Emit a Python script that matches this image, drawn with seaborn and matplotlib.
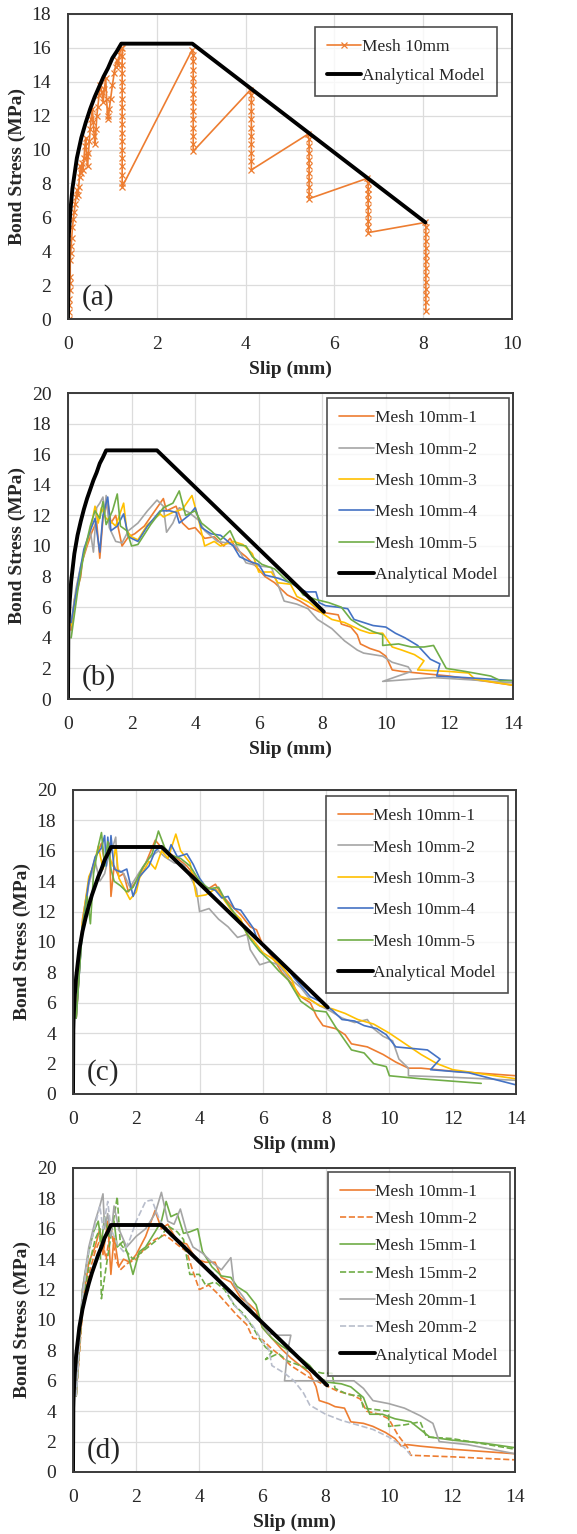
import numpy as np
import pandas as pd
import seaborn as sns
import matplotlib.pyplot as plt

# ---------------- data ----------------
# analytical model (same curve in every panel)
model_slip = [0.0, 0.01, 0.02, 0.05, 0.1, 0.2, 0.3, 0.4, 0.5, 0.6, 0.7, 0.8, 0.9, 1.0, 1.1, 1.2, 2.8, 8.05]
model_stress = [0.0, 4.2, 5.0, 6.3, 7.7, 9.5, 10.7, 11.6, 12.4, 13.1, 13.7, 14.3, 14.8, 15.4, 15.8, 16.25, 16.25, 5.7]

# panel (a): Mesh 10mm (x markers)
a_rise_x = [0.02, 0.02, 0.03, 0.03, 0.04, 0.04, 0.05, 0.05, 0.06, 0.07, 0.08, 0.10, 0.12, 0.14, 0.16, 0.18,
            0.20, 0.22, 0.24, 0.26, 0.28, 0.30, 0.32, 0.34, 0.36, 0.38, 0.40, 0.42, 0.44, 0.46, 0.48, 0.50,
            0.52, 0.55, 0.57, 0.59, 0.61, 0.63, 0.65, 0.67, 0.70, 0.73, 0.76, 0.79, 0.82, 0.85, 0.87, 0.89,
            0.91, 0.93, 0.96, 1.00, 1.04, 1.07, 1.10, 1.13, 1.16, 1.19]
a_rise_y = [0.0, 0.4, 0.8, 1.2, 1.7, 2.1, 2.5, 3.5, 3.9, 4.3, 4.8, 5.4, 5.9, 6.3, 6.8, 7.2,
            7.6, 7.3, 7.8, 8.4, 9.0, 8.6, 9.2, 8.8, 9.5, 10.2, 10.7, 9.6, 9.0, 9.8, 10.5, 11.2,
            11.8, 12.4, 11.6, 10.8, 10.3, 11.2, 12.0, 12.5, 13.2, 13.8, 13.4, 12.8, 13.6, 14.2, 13.0, 12.0,
            11.8, 12.4, 13.0, 13.8, 14.5, 14.9, 15.3, 15.0, 15.6, 16.0]
a_drop_x = [1.22, 2.82, 4.13, 5.43, 6.76, 8.06]
a_peak_x = [None, 2.80, 4.10, 5.40, 6.74, 8.05]
a_peak_y = [None, 15.9, 13.5, 10.9, 8.3, 5.7]
a_drops = [
    [16.0, 15.5, 15.0, 14.5, 14.0, 13.5, 13.0, 12.5, 12.0, 11.5, 11.0, 10.5, 10.0, 9.5, 9.0, 8.5, 8.0, 7.8],
    [15.6, 15.2, 14.7, 14.2, 13.8, 13.3, 12.8, 12.3, 11.8, 11.3, 10.8, 10.3, 9.9],
    [13.2, 12.8, 12.3, 11.8, 11.3, 10.8, 10.3, 9.8, 9.3, 8.8],
    [10.6, 10.2, 9.8, 9.4, 9.0, 8.6, 8.2, 7.8, 7.4, 7.1],
    [8.0, 7.7, 7.4, 7.0, 6.6, 6.2, 5.8, 5.4, 5.1],
    [5.4, 5.0, 4.6, 4.2, 3.8, 3.4, 3.0, 2.6, 2.2, 1.8, 1.4, 1.0, 0.45],
]

# panel (b): five 10mm specimens
b_series = {
    "Mesh 10mm-1": (
        [0.1, 0.2, 0.3, 0.4, 0.45, 0.6, 0.75, 0.9, 1.0, 1.1, 1.25, 1.35, 1.5, 1.7, 1.9, 2.1, 2.4, 2.7, 3.0, 3.1,
         3.4, 3.6, 3.8, 4.0, 4.3, 4.6, 4.9, 5.1, 5.3, 5.6, 5.9, 6.2, 6.5, 6.9, 7.3, 7.6, 7.9, 8.2, 8.5, 8.6,
         8.9, 9.1, 9.2, 9.5, 9.8, 10.0, 10.2, 10.5, 11.0, 12.0, 13.0, 14.0],
        [4.5, 6.5, 7.2, 8.0, 9.0, 10.0, 10.9, 11.6, 9.2, 11.8, 12.9, 11.5, 12.0, 10.0, 10.6, 10.8, 11.3, 12.2, 13.1, 12.3,
         12.6, 11.5, 11.1, 11.2, 10.5, 10.6, 10.0, 10.5, 9.8, 9.3, 8.7, 8.0, 7.6, 6.8, 6.4, 6.0, 5.7, 5.6, 5.5, 4.9,
         4.7, 4.2, 3.6, 3.3, 3.1, 2.8, 1.9, 1.8, 1.7, 1.5, 1.2, 0.9]),
    "Mesh 10mm-2": (
        [0.1, 0.25, 0.4, 0.55, 0.7, 0.8, 0.9, 1.0, 1.1, 1.15, 1.2, 1.3, 1.5, 1.7, 1.9, 2.2, 2.5, 2.8, 3.0, 3.1,
         3.3, 3.5, 3.8, 4.1, 4.3, 4.7, 5.0, 5.3, 5.6, 6.0, 6.4, 6.8, 7.2, 7.55, 7.85, 8.3, 8.7, 9.1, 9.3, 9.9,
         10.2, 10.7, 10.8, 9.9, 11.5, 12.7, 14.0],
        [5.0, 7.2, 8.7, 9.8, 11.0, 9.6, 12.5, 12.8, 13.2, 12.1, 13.3, 11.2, 10.3, 10.2, 11.0, 11.5, 12.3, 13.0, 12.6, 10.9,
         11.5, 12.5, 12.2, 11.7, 11.0, 10.3, 10.2, 10.0, 8.9, 8.7, 8.6, 6.4, 6.2, 5.9, 5.2, 4.6, 3.8, 3.2, 3.0, 2.8,
         2.4, 2.1, 1.8, 1.15, 1.4, 1.25, 1.05]),
    "Mesh 10mm-3": (
        [0.1, 0.3, 0.5, 0.7, 0.85, 0.95, 1.05, 1.2, 1.35, 1.5, 1.75, 1.85, 2.0, 2.2, 2.5, 2.9, 3.0, 3.3, 3.6, 3.9,
         4.1, 4.3, 4.6, 4.8, 5.2, 5.5, 5.8, 6.0, 6.4, 6.6, 7.0, 7.2, 7.6, 8.0, 8.3, 8.7, 9.0, 9.2, 9.5, 9.9,
         10.2, 10.5, 10.9, 11.2, 11.0, 12.0, 12.6, 12.8, 14.0],
        [4.8, 7.5, 9.5, 11.0, 12.6, 11.5, 12.5, 11.8, 11.6, 11.3, 12.8, 11.0, 10.6, 10.4, 11.4, 12.1, 11.9, 12.2, 12.4, 13.3,
         11.8, 10.0, 10.3, 10.0, 10.3, 10.1, 9.5, 8.3, 8.3, 7.6, 7.5, 6.7, 6.3, 5.6, 5.2, 5.0, 4.7, 4.5, 4.3, 4.3,
         3.4, 3.2, 2.9, 2.5, 1.9, 1.8, 1.7, 1.3, 0.9]),
    "Mesh 10mm-4": (
        [0.1, 0.3, 0.5, 0.7, 0.85, 1.0, 1.1, 1.25, 1.35, 1.55, 1.75, 1.9, 2.2, 2.5, 2.9, 3.2, 3.4, 3.5, 3.8, 4.0,
         4.2, 4.5, 4.8, 5.2, 5.4, 5.7, 6.0, 6.2, 6.6, 7.0, 7.3, 7.5, 7.8, 7.9, 8.1, 8.5, 8.8, 9.0, 9.3, 9.6,
         10.0, 10.3, 10.6, 11.0, 11.4, 11.7, 11.6, 12.5, 14.0],
        [5.0, 7.5, 9.8, 11.0, 11.8, 9.6, 12.0, 13.2, 11.0, 11.3, 12.1, 10.6, 10.3, 11.3, 12.3, 12.3, 12.2, 11.5, 12.0, 12.5,
         11.2, 10.8, 10.7, 10.0, 9.3, 9.0, 8.8, 8.1, 7.9, 7.6, 7.2, 7.0, 7.0, 6.3, 6.1, 6.0, 5.9, 5.2, 5.0, 4.8,
         4.7, 4.3, 4.0, 3.5, 2.6, 2.3, 1.5, 1.4, 1.2]),
    "Mesh 10mm-5": (
        [0.1, 0.3, 0.5, 0.7, 0.85, 1.0, 1.1, 1.2, 1.4, 1.55, 1.65, 1.85, 2.0, 2.2, 2.6, 3.0, 3.3, 3.5, 3.7, 4.0,
         4.2, 4.5, 4.8, 5.1, 5.3, 5.6, 5.8, 6.1, 6.5, 6.9, 7.2, 7.4, 7.8, 8.2, 8.6, 8.9, 9.2, 9.6, 9.9, 9.9,
         10.4, 10.8, 11.2, 11.5, 11.9, 12.5, 13.3, 13.6, 14.0],
        [4.0, 7.0, 9.5, 11.3, 12.3, 11.8, 12.9, 11.4, 12.3, 13.4, 11.3, 11.0, 10.0, 10.1, 11.4, 12.5, 12.8, 13.6, 12.0, 12.3,
         11.5, 11.0, 10.4, 11.0, 10.1, 10.0, 9.3, 8.8, 8.5, 7.7, 7.4, 6.8, 6.5, 6.3, 6.0, 5.2, 4.8, 4.4, 4.2, 3.5,
         3.6, 3.4, 3.4, 3.5, 2.0, 1.8, 1.5, 1.2, 1.2]),
}

# panel (c): five 10mm specimens, second batch
c_series = {
    "Mesh 10mm-1": (
        [0.1, 0.3, 0.5, 0.7, 0.9, 1.0, 1.15, 1.2, 1.3, 1.45, 1.6, 1.75, 2.0, 2.3, 2.6, 2.8, 3.0, 3.3, 3.6, 3.9,
         4.2, 4.5, 4.7, 5.0, 5.3, 5.6, 5.8, 6.0, 6.3, 6.6, 6.9, 7.2, 7.5, 7.7, 7.9, 8.3, 8.6, 8.8, 9.3, 9.8,
         10.2, 10.4, 10.6, 11.0, 12.0, 14.0],
        [5.0, 11.5, 14.0, 15.5, 16.5, 15.2, 16.5, 13.0, 15.0, 14.3, 14.5, 13.3, 14.0, 15.2, 16.7, 16.2, 15.9, 15.5, 15.0, 14.2,
         13.4, 13.8, 13.1, 12.4, 11.8, 11.0, 10.8, 9.8, 9.0, 8.0, 7.3, 6.4, 6.0, 5.1, 4.5, 4.3, 3.9, 3.3, 3.1, 2.6,
         2.1, 1.9, 1.7, 1.7, 1.5, 1.2]),
    "Mesh 10mm-2": (
        [0.1, 0.3, 0.5, 0.7, 0.85, 1.0, 1.1, 1.25, 1.35, 1.4, 1.6, 1.8, 2.1, 2.4, 2.7, 2.9, 3.2, 3.5, 3.7, 3.9,
         4.0, 4.3, 4.6, 4.9, 5.2, 5.5, 5.6, 5.9, 6.2, 6.5, 6.8, 7.2, 7.5, 7.8, 8.1, 8.5, 8.9, 9.3, 9.5, 9.8,
         10.1, 10.3, 10.6, 10.6, 12.0, 14.0],
        [5.0, 11.0, 13.8, 15.3, 14.0, 14.5, 15.4, 16.2, 16.9, 14.8, 14.5, 13.6, 14.6, 15.5, 16.0, 15.6, 15.2, 15.1, 14.3, 13.5,
         12.0, 12.2, 11.5, 11.0, 10.3, 10.5, 9.5, 8.5, 8.7, 8.5, 7.7, 7.0, 6.2, 5.8, 5.5, 5.0, 4.7, 4.9, 4.3, 3.8,
         3.5, 2.3, 1.7, 1.2, 1.1, 0.9]),
    "Mesh 10mm-3": (
        [0.1, 0.3, 0.5, 0.65, 0.8, 0.95, 1.1, 1.25, 1.35, 1.45, 1.6, 1.8, 2.0, 2.1, 2.4, 2.6, 2.8, 3.0, 3.25, 3.4,
         3.7, 3.9, 4.2, 4.5, 4.7, 5.0, 5.3, 5.5, 5.7, 6.0, 6.3, 6.6, 6.9, 7.1, 7.5, 7.8, 8.2, 8.6, 9.0, 9.5,
         10.0, 10.5, 11.0, 11.5, 12.0, 13.0, 14.0],
        [5.0, 11.3, 14.3, 15.0, 16.3, 14.8, 16.0, 15.0, 16.3, 14.2, 13.6, 12.8, 13.3, 14.2, 15.3, 14.8, 16.0, 15.5, 17.1, 16.0,
         15.2, 13.0, 13.1, 13.5, 13.0, 12.1, 11.5, 10.5, 10.1, 9.3, 8.9, 8.4, 7.6, 6.5, 6.2, 5.8, 5.6, 5.3, 4.9, 4.6,
         4.0, 3.3, 2.6, 2.0, 1.6, 1.3, 1.0]),
    "Mesh 10mm-4": (
        [0.1, 0.3, 0.5, 0.7, 0.9, 1.0, 1.05, 1.1, 1.15, 1.2, 1.3, 1.5, 1.7, 1.9, 2.1, 2.4, 2.6, 2.8, 3.0, 3.1,
         3.3, 3.6, 3.8, 4.0, 4.2, 4.5, 4.7, 4.9, 5.1, 5.3, 5.5, 5.7, 5.8, 6.0, 6.2, 6.5, 6.8, 7.0, 7.3, 7.5,
         7.8, 8.2, 8.5, 8.9, 9.2, 9.6, 9.9, 10.2, 10.7, 11.2, 11.6, 11.3, 12.5, 14.0],
        [5.0, 11.0, 14.0, 15.6, 16.2, 17.0, 15.0, 16.9, 15.5, 17.0, 14.8, 14.6, 14.8, 13.0, 14.3, 15.0, 16.0, 16.3, 15.8, 16.4,
         15.6, 15.8, 15.1, 14.2, 13.6, 13.4, 12.9, 13.0, 12.2, 12.1, 11.5, 10.9, 10.3, 9.8, 9.3, 8.8, 8.2, 7.6, 6.9, 6.4,
         6.1, 5.5, 4.9, 4.8, 4.5, 4.3, 3.9, 3.1, 3.0, 2.9, 2.3, 1.6, 1.4, 0.6]),
    "Mesh 10mm-5": (
        [0.1, 0.3, 0.45, 0.55, 0.65, 0.8, 0.9, 1.0, 1.1, 1.2, 1.3, 1.5, 1.7, 1.9, 2.2, 2.5, 2.7, 2.9, 3.1, 3.4,
         3.7, 4.0, 4.3, 4.6, 4.8, 5.1, 5.4, 5.6, 5.9, 6.2, 6.5, 6.8, 7.0, 7.2, 7.6, 8.0, 8.3, 8.5, 8.8, 9.2,
         9.5, 9.9, 10.0, 11.0, 12.9],
        [5.0, 11.0, 13.0, 11.2, 14.5, 16.3, 17.2, 15.0, 16.6, 14.8, 14.0, 13.7, 13.3, 13.6, 14.9, 15.8, 17.3, 16.2, 15.7, 15.5,
         15.0, 14.0, 13.5, 13.6, 12.8, 11.9, 10.9, 10.2, 9.4, 8.8, 8.1, 7.5, 6.8, 6.1, 5.5, 5.4, 4.4, 3.8, 2.9, 2.7,
         2.0, 1.8, 1.2, 1.0, 0.7]),
}

# panel (d): 10, 15 and 20 mm meshes
d_series = {
    "Mesh 10mm-1": (
        [0.1, 0.3, 0.5, 0.7, 0.85, 0.95, 1.1, 1.2, 1.3, 1.45, 1.6, 1.8, 2.0, 2.3, 2.6, 2.8, 3.0, 3.3, 3.6, 3.9,
         4.2, 4.5, 4.7, 5.0, 5.3, 5.6, 5.8, 6.0, 6.3, 6.6, 6.9, 7.2, 7.5, 7.7, 7.8, 8.1, 8.3, 8.6, 8.8, 9.2,
         9.5, 9.9, 10.2, 10.4, 10.6, 11.0, 12.0, 14.0],
        [5.0, 11.0, 13.8, 14.8, 16.0, 14.3, 16.5, 13.0, 15.5, 13.5, 14.0, 13.8, 14.3, 15.5, 17.2, 16.0, 16.3, 15.2, 15.0, 14.0,
         13.8, 13.8, 12.8, 12.5, 11.5, 11.0, 10.6, 9.5, 8.8, 8.1, 7.5, 7.0, 6.5, 5.6, 4.7, 4.5, 4.3, 4.2, 3.3, 3.2,
         3.0, 2.6, 2.2, 1.7, 1.8, 1.7, 1.5, 1.2]),
    "Mesh 10mm-2": (
        [0.1, 0.3, 0.5, 0.7, 0.9, 1.05, 1.2, 1.35, 1.5, 1.7, 2.0, 2.3, 2.6, 2.9, 3.1, 3.4, 3.6, 3.8, 4.0, 4.3,
         4.6, 4.9, 5.2, 5.5, 5.7, 6.0, 6.3, 6.6, 6.9, 7.2, 7.5, 7.8, 8.1, 8.4, 8.8, 9.1, 9.3, 9.7, 10.0, 10.3,
         10.6, 10.7, 12.0, 14.0],
        [5.0, 10.5, 13.0, 14.5, 15.5, 14.0, 16.2, 14.0, 13.3, 13.7, 14.0, 14.8, 15.3, 15.6, 15.3, 14.8, 14.5, 13.2, 12.0, 12.3,
         11.7, 11.0, 10.3, 9.7, 8.8, 8.7, 8.1, 7.6, 7.0, 6.6, 6.2, 5.9, 5.6, 5.3, 5.1, 4.8, 4.0, 3.8, 3.5, 2.4,
         1.6, 1.1, 1.0, 0.8]),
    "Mesh 15mm-1": (
        [0.1, 0.3, 0.5, 0.65, 0.8, 0.9, 1.0, 1.15, 1.3, 1.4, 1.6, 1.75, 1.9, 2.1, 2.3, 2.6, 2.8, 2.95, 3.1, 3.3,
         3.5, 3.7, 3.95, 4.1, 4.4, 4.7, 5.0, 5.2, 5.5, 5.8, 6.0, 6.3, 6.6, 6.9, 7.2, 7.5, 7.8, 8.1, 8.5, 8.8,
         9.2, 9.4, 9.8, 10.2, 10.7, 11.0, 11.3, 12.0, 13.0, 14.0],
        [5.0, 12.0, 14.5, 15.8, 16.5, 15.0, 16.8, 15.5, 16.5, 14.8, 15.2, 14.2, 13.0, 14.5, 14.8, 15.8, 16.5, 17.8, 16.8, 17.0,
         15.7, 15.8, 16.0, 14.5, 13.5, 12.9, 12.8, 12.2, 11.8, 11.0, 9.5, 8.8, 8.3, 7.9, 7.5, 7.0, 6.2, 5.9, 5.8, 5.6,
         4.9, 3.8, 3.8, 3.5, 3.3, 2.8, 2.3, 2.1, 1.9, 1.6]),
    "Mesh 15mm-2": (
        [0.1, 0.3, 0.5, 0.7, 0.85, 0.9, 1.05, 1.2, 1.4, 1.5, 1.7, 1.9, 2.2, 2.5, 2.8, 3.0, 3.3, 3.5, 3.7, 4.0,
         4.2, 4.5, 4.8, 5.1, 5.4, 5.7, 5.9, 6.1, 6.3, 6.1, 6.5, 6.8, 7.2, 7.5, 7.9, 8.2, 8.3, 8.7, 9.1, 9.2,
         9.6, 10.0, 10.0, 10.5, 11.0, 11.2, 12.0, 14.0],
        [5.0, 11.0, 13.5, 15.3, 16.0, 11.4, 13.5, 15.5, 18.1, 15.0, 14.5, 14.0, 14.5, 15.0, 15.5, 16.2, 15.8, 15.3, 13.0, 13.0,
         12.3, 12.5, 12.0, 11.0, 10.4, 9.5, 8.8, 8.2, 7.9, 7.4, 7.8, 7.3, 7.0, 6.7, 6.5, 6.5, 5.5, 5.1, 5.0, 4.2,
         4.1, 4.0, 3.0, 3.1, 3.3, 2.3, 2.2, 1.5]),
    "Mesh 20mm-1": (
        [0.1, 0.3, 0.5, 0.7, 0.85, 0.95, 1.0, 1.1, 1.2, 1.3, 1.45, 1.7, 2.0, 2.3, 2.6, 2.8, 3.0, 3.2, 3.4, 3.6,
         3.8, 4.1, 4.4, 4.7, 5.0, 5.1, 5.4, 5.7, 5.9, 6.2, 6.5, 6.9, 6.8, 6.7, 7.3, 7.8, 8.1, 8.5, 8.9, 9.2,
         9.5, 10.0, 10.5, 11.0, 11.4, 11.6, 12.5, 14.0],
        [5.0, 12.0, 14.8, 16.5, 17.5, 18.3, 16.0, 17.0, 15.5, 17.5, 16.0, 14.8, 15.5, 16.0, 17.0, 18.4, 16.5, 16.3, 17.3, 15.8,
         14.8, 14.4, 13.8, 13.3, 14.1, 12.3, 11.5, 10.5, 10.0, 9.1, 9.0, 9.0, 8.0, 6.0, 6.0, 6.0, 6.0, 6.0, 6.0, 5.5,
         4.7, 4.5, 4.2, 3.7, 3.2, 2.0, 1.8, 1.2]),
    "Mesh 20mm-2": (
        [0.1, 0.3, 0.5, 0.7, 0.85, 0.95, 1.1, 1.2, 1.4, 1.6, 1.8, 2.0, 2.3, 2.5, 2.7, 2.9, 3.1, 3.4, 3.6, 3.9,
         4.2, 4.5, 4.8, 5.1, 5.4, 5.7, 6.0, 6.2, 6.3, 6.7, 7.0, 7.3, 7.5, 8.0, 8.5, 9.0, 9.5, 10.0, 10.5, 10.7],
        [5.0, 11.5, 14.5, 16.2, 17.5, 16.0, 17.8, 16.0, 15.0, 14.5, 15.3, 16.5, 17.8, 17.9, 16.8, 16.0, 15.5, 15.2, 14.5, 14.0,
         13.5, 13.0, 12.2, 11.0, 10.3, 9.6, 8.6, 8.1, 7.0, 6.5, 6.0, 5.2, 4.4, 3.8, 3.4, 3.1, 2.8, 2.3, 1.6, 1.1]),
}

ORANGE = "#ED7D31"
GRAY = "#A5A5A5"
YELLOW = "#FFC000"
BLUE = "#4472C4"
GREEN = "#70AD47"
LIGHT = "#B8BDCB"

sns.set_theme(style="whitegrid")
plt.rcParams["font.family"] = ["Liberation Serif", "DejaVu Serif"]
plt.rcParams["axes.edgecolor"] = "#3a3a3a"
plt.rcParams["grid.color"] = "#dcdcdc"

W, H = 577, 1534
fig = plt.figure(figsize=(W / 100, H / 100), dpi=100)


def make_axes(l, r, t, b):
    return fig.add_axes([l / W, 1 - b / H, (r - l) / W, (b - t) / H])


def model_line(ax):
    df = pd.DataFrame({"slip": model_slip, "stress": model_stress})
    sns.lineplot(data=df, x="slip", y="stress", ax=ax, sort=False, estimator=None,
                 color="black", lw=2.8, label="Analytical Model")


def style_axes(ax, xmax, ymax, tag, leg_anchor, spacing):
    ax.set_xlim(0, xmax)
    ax.set_ylim(0, ymax)
    ax.set_xticks(np.arange(0, xmax + 1, 2))
    ax.set_yticks(np.arange(0, ymax + 1, 2))
    ax.tick_params(labelsize=14, length=0, pad=12)
    for s in ax.spines.values():
        s.set_linewidth(1.4)
    ax.grid(True, lw=0.9)
    ax.set_xlabel("Slip (mm)", fontsize=14, fontweight="bold", labelpad=6)
    ax.set_ylabel("Bond Stress (MPa)", fontsize=14, fontweight="bold", labelpad=4)
    ax.text(0.03, 0.025, tag, transform=ax.transAxes, fontsize=21, ha="left", va="bottom")
    leg = ax.legend(loc="upper right", bbox_to_anchor=leg_anchor, borderaxespad=0,
                    fontsize=12.5, frameon=True, fancybox=False, handlelength=2.0,
                    handletextpad=0.05, labelspacing=spacing, borderpad=0.7)
    leg.get_frame().set_edgecolor("#222222")
    leg.get_frame().set_linewidth(1.2)


# ---- (a)
ax = make_axes(68, 512, 14, 319)
ax_x = list(a_rise_x)
ax_y = list(a_rise_y)
for dx, px, py, vals in zip(a_drop_x, a_peak_x, a_peak_y, a_drops):
    if px is not None:
        ax_x.append(px)
        ax_y.append(py)
    ax_x += [dx] * len(vals)
    ax_y += vals
dfa = pd.DataFrame({"slip": ax_x, "stress": ax_y})
sns.lineplot(data=dfa, x="slip", y="stress", ax=ax, sort=False, estimator=None,
             color=ORANGE, lw=1.2, marker="x", markersize=4, markeredgewidth=0.9,
             markeredgecolor=ORANGE, label="Mesh 10mm")
model_line(ax)
style_axes(ax, 10, 18, "(a)", (0.966, 0.957), 0.72)


def draw_panel(series, colors, styles, box, tag, anchor, spacing):
    ax = make_axes(*box)
    for (name, (xs, ys)), c, ls in zip(series.items(), colors, styles):
        df = pd.DataFrame({"slip": xs, "stress": ys})
        sns.lineplot(data=df, x="slip", y="stress", ax=ax, sort=False, estimator=None,
                     color=c, lw=1.2, linestyle=ls, label=name)
    model_line(ax)
    style_axes(ax, 14, 20, tag, anchor, spacing)


five = [ORANGE, GRAY, YELLOW, BLUE, GREEN]
draw_panel(b_series, five, ["-"] * 5, (68, 513, 393, 699), "(b)", (0.992, 0.984), 0.88)
draw_panel(c_series, five, ["-"] * 5, (73, 516, 790, 1094), "(c)", (0.982, 0.981), 0.88)
draw_panel(d_series, [ORANGE, ORANGE, GREEN, GREEN, GRAY, LIGHT],
           ["-", "--", "-", "--", "-", "--"], (73, 515, 1168, 1472), "(d)", (0.989, 0.988), 0.64)

fig.savefig("out.png", dpi=100)
